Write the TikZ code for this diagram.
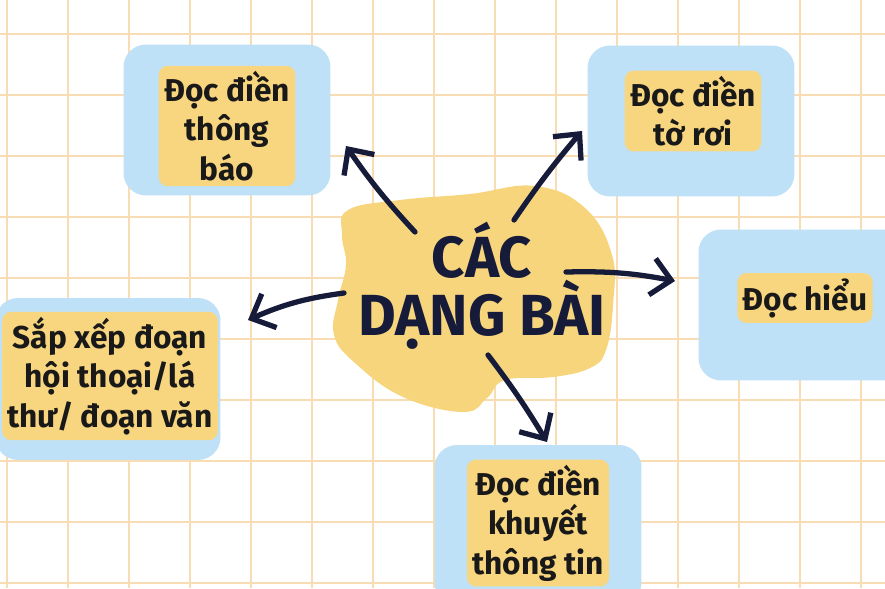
\documentclass[tikz,border=0pt]{standalone}
\usepackage{fontspec}
\setmainfont{Fira Sans}
\usetikzlibrary{arrows.meta,positioning}
\definecolor{gridorange}{RGB}{248,220,180}
\definecolor{boxblue}{RGB}{191,225,248}
\definecolor{markyellow}{RGB}{248,214,128}
\definecolor{blobyellow}{RGB}{247,213,125}
\definecolor{inknavy}{RGB}{22,27,58}

\begin{document}
\begin{tikzpicture}[x=0.02cm,y=-0.02cm,
    gridline/.style={gridorange, line width=1.1pt},
    bluebox/.style={fill=boxblue, rounded corners=0.45cm, minimum width=4.14cm, minimum height=3.02cm},
    txtmark/.style={fill=markyellow, rounded corners=0.18cm, font=\bfseries\fontsize{18}{22.5}\selectfont, text=black!90, align=center, inner sep=3pt},
    arr/.style={inknavy, line width=3pt, line cap=round, -{Straight Barb[length=11pt,width=21pt]}}
    ]
    %cadre
\useasboundingbox (0,0) rectangle (885,588);
\clip (0,0) rectangle (885,588);
\fill[white] (0,0) rectangle (885,588);
\foreach \gx in {7,68,...,861} \draw[gridline] (\gx,0) -- (\gx,588);
\foreach \gy in {34,95,...,583} \draw[gridline] (0,\gy) -- (885,\gy);

    %blob
\fill[blobyellow] plot[smooth cycle, tension=0.7] coordinates {(348,210) (400,200) (470,194) (535,186) (585,208) (612,255) (613,305) (606,350) (590,368) (553,377) (505,380) (487,398) (463,412) (403,397) (355,363) (334,335) (338,300) (346,265) (342,235)};
    \node[font=\bfseries\fontsize{33}{24}\selectfont, text=inknavy, align=center] (dang) at (482,286) {CÁC\\DẠNG BÀI};

    \node[bluebox] (tbbox)  at (227,120) {};
    \node[bluebox] (trbox)  at (691,121) {};
    \node[bluebox] (dhbox)  at (802,305) {};
    \node[bluebox,minimum width=4.5cm,minimum height=3.24cm] (sxbox)  at (108,379) {};
    \node[bluebox,minimum height=3.2cm] (kttbox) at (538,525) {};

    \node[txtmark] (tb)  at (227,126) {Đọc điền\\thông\\báo};
    \node[txtmark] (tr)  at (693,111) {Đọc điền\\tờ rơi};
    \node[txtmark] (dh)  at (805,298) {Đọc hiểu};
    \node[txtmark] (sx)  at (110,376) {Sắp xếp đoạn\\hội thoại/lá\\thư/ đoạn văn};
    \node[txtmark] (ktt) at (538,523) {Đọc điền\\khuyết\\thông tin};

    \coordinate (s1) at (415,232); \coordinate (e1) at (346,146);
    \coordinate (s2) at (514,220); \coordinate (e2) at (582,131);
    \coordinate (s3) at (566,272); \coordinate (e3) at (675,281);
    \coordinate (s4) at (344,293); \coordinate (e4) at (248,320);
    \coordinate (s5) at (488,355); \coordinate (e5) at (547,442);
    \draw[arr] (s1) to[bend left=4] (e1);
    \draw[arr] (s2) to[bend left=3] (e2);
    \draw[arr] (s3) to[bend left=6] (e3);
    \draw[arr] (s4) to[bend right=8] (e4);
    \draw[arr] (s5) to[bend left=3] (e5);
\end{tikzpicture}
\end{document}
